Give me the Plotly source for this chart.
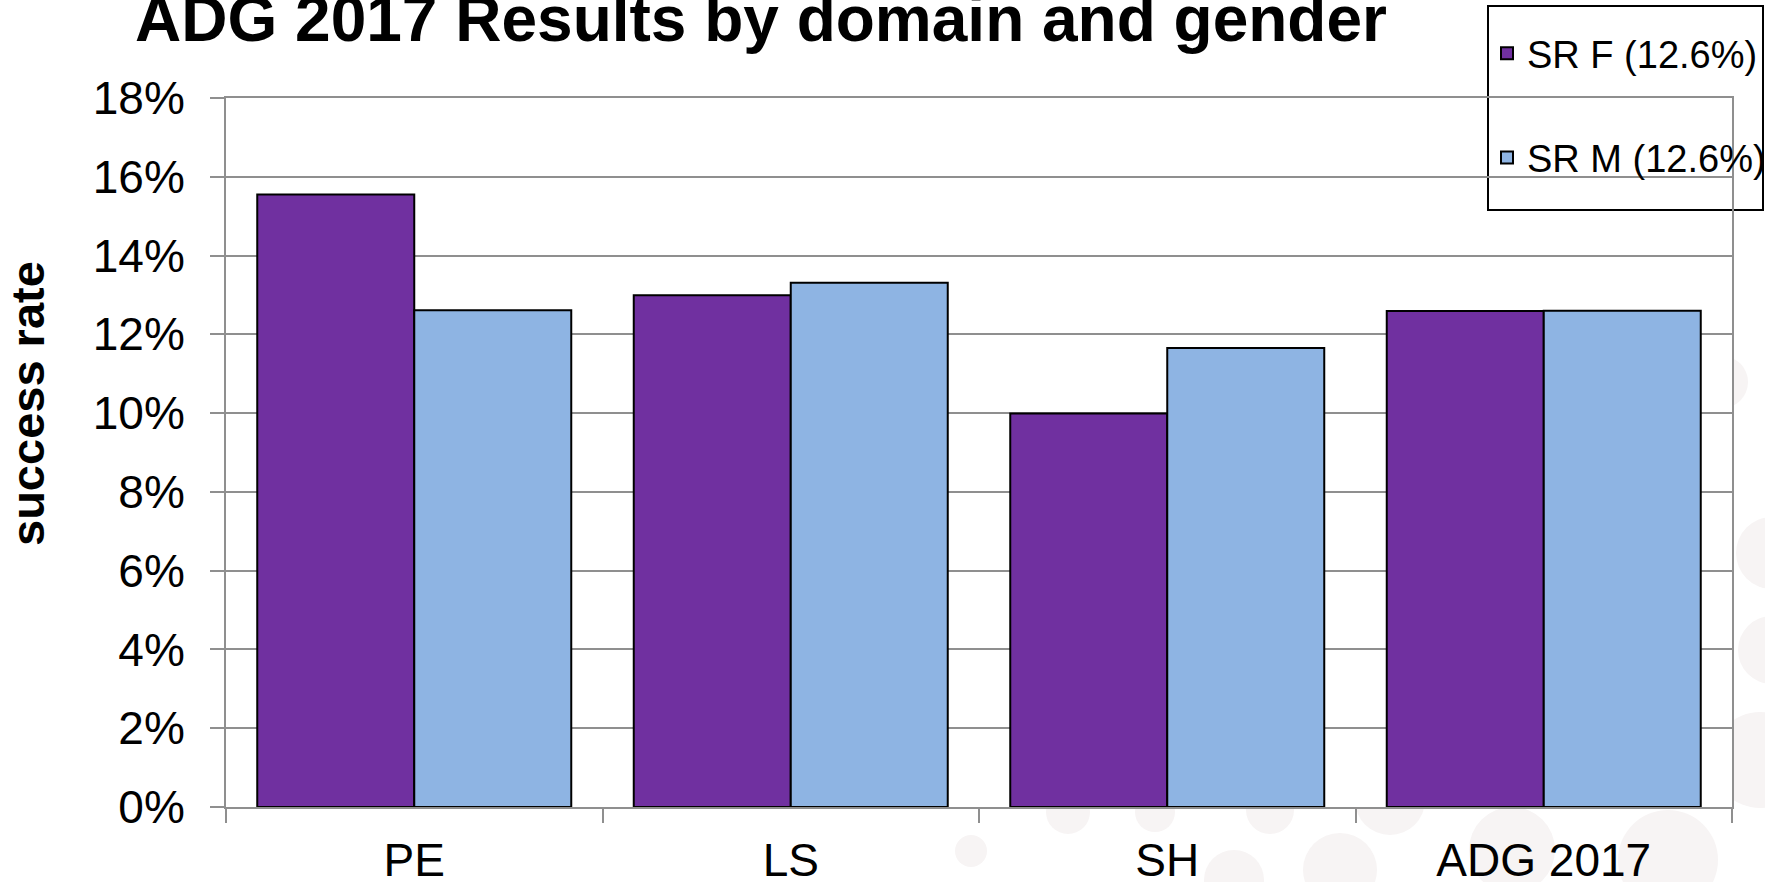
import plotly.graph_objects as go

categories = ["PE", "LS", "SH", "ADG 2017"]
sr_female = [0.1555, 0.1299, 0.0999, 0.1259]
sr_male = [0.1261, 0.1331, 0.1165, 0.1260]
series_names = ["SR F (12.6%)", "SR M (12.6%)"]
y_ticks = [0, 0.02, 0.04, 0.06, 0.08, 0.10, 0.12, 0.14, 0.16, 0.18]

W, H = 1765, 882
L, R, T, B = 226, 1732, 98, 807  # plot area in px

def px(x):
    return (x - L) / (R - L)

def py(y):
    return (B - y) / (B - T)

FONT = "Arial, Liberation Sans, Helvetica, sans-serif"
GRID = "#8f8f8f"

fig = go.Figure()
fig.add_trace(go.Bar(x=categories, y=sr_female, name=series_names[0], legendgroup="f",
                     marker=dict(color="#7030A0", line=dict(color="black", width=2))))
fig.add_trace(go.Bar(x=categories, y=sr_male, name=series_names[1], legendgroup="m",
                     marker=dict(color="#8EB4E3", line=dict(color="black", width=2))))

# faint decorative circles (outside plot area)
circles = [(1722, 382, 26), (1772, 553, 36), (1772, 650, 34), (1760, 760, 48),
           (971, 851, 16), (1068, 812, 22), (1390, 800, 35), (1512, 850, 43),
           (1668, 860, 50), (1234, 880, 30), (1340, 870, 37), (1155, 812, 20),
           (1270, 810, 24)]
shapes = []
for cx, cy, r in circles:
    shapes.append(dict(type="circle", xref="paper", yref="paper",
                       x0=px(cx - r), x1=px(cx + r), y0=py(cy + r), y1=py(cy - r),
                       fillcolor="#F7F4F4", line=dict(width=0), layer="below"))
# white plot area covering circles
shapes.append(dict(type="rect", xref="paper", yref="paper", x0=0, x1=1, y0=0, y1=1,
                   fillcolor="white", line=dict(width=0), layer="below"))
# legend frame
shapes.append(dict(type="rect", xref="paper", yref="paper",
                   x0=px(1488), x1=px(1763), y0=py(210), y1=py(6),
                   fillcolor="white", line=dict(color="black", width=2), layer="below"))

fig.update_layout(
    width=W, height=H,
    margin=dict(l=L, r=W - R, t=T, b=H - B, pad=0, autoexpand=False),
    paper_bgcolor="white", plot_bgcolor="white",
    barmode="group", bargap=0.166, bargroupgap=0,
    font=dict(family=FONT, color="black"),
    title=dict(text="<b>ADG 2017 Results by domain and gender</b>",
               font=dict(size=64, family=FONT, color="black"),
               x=761 / W, xanchor="center", xref="container",
               y=1 - 19 / H, yanchor="middle", yref="container"),
    showlegend=True,
    legend=dict(x=px(1487), xanchor="left", y=py(22), yanchor="top",
                bgcolor="rgba(0,0,0,0)", borderwidth=0,
                font=dict(size=38, family=FONT, color="black"),
                traceorder="grouped", tracegroupgap=52),
    shapes=shapes,
    annotations=[dict(text="<b>success rate</b>", textangle=-90, showarrow=False,
                      xref="paper", yref="paper", x=px(27), y=py(404),
                      xanchor="center", yanchor="middle",
                      font=dict(size=47, family=FONT, color="black"))],
)

fig.update_xaxes(type="category", showline=True, linecolor=GRID, linewidth=2, mirror=True,
                 ticks="outside", tickson="boundaries", ticklen=14, tickcolor=GRID, tickwidth=2,
                 showgrid=False, tickfont=dict(size=46, family=FONT, color="black"),
                 ticklabelstandoff=12)
fig.update_yaxes(range=[0, 0.18], tickvals=y_ticks, tickformat=".0%",
                 showline=True, linecolor=GRID, linewidth=2, mirror=True,
                 showgrid=True, gridcolor=GRID, gridwidth=2,
                 ticks="outside", ticklen=14, tickcolor=GRID, tickwidth=2,
                 tickfont=dict(size=46, family=FONT, color="black"),
                 ticklabelstandoff=16, zeroline=False)

fig.write_html("out.html", config={"displayModeBar": False},
               post_script="document.body.style.margin='0';document.body.style.overflow='hidden';")
